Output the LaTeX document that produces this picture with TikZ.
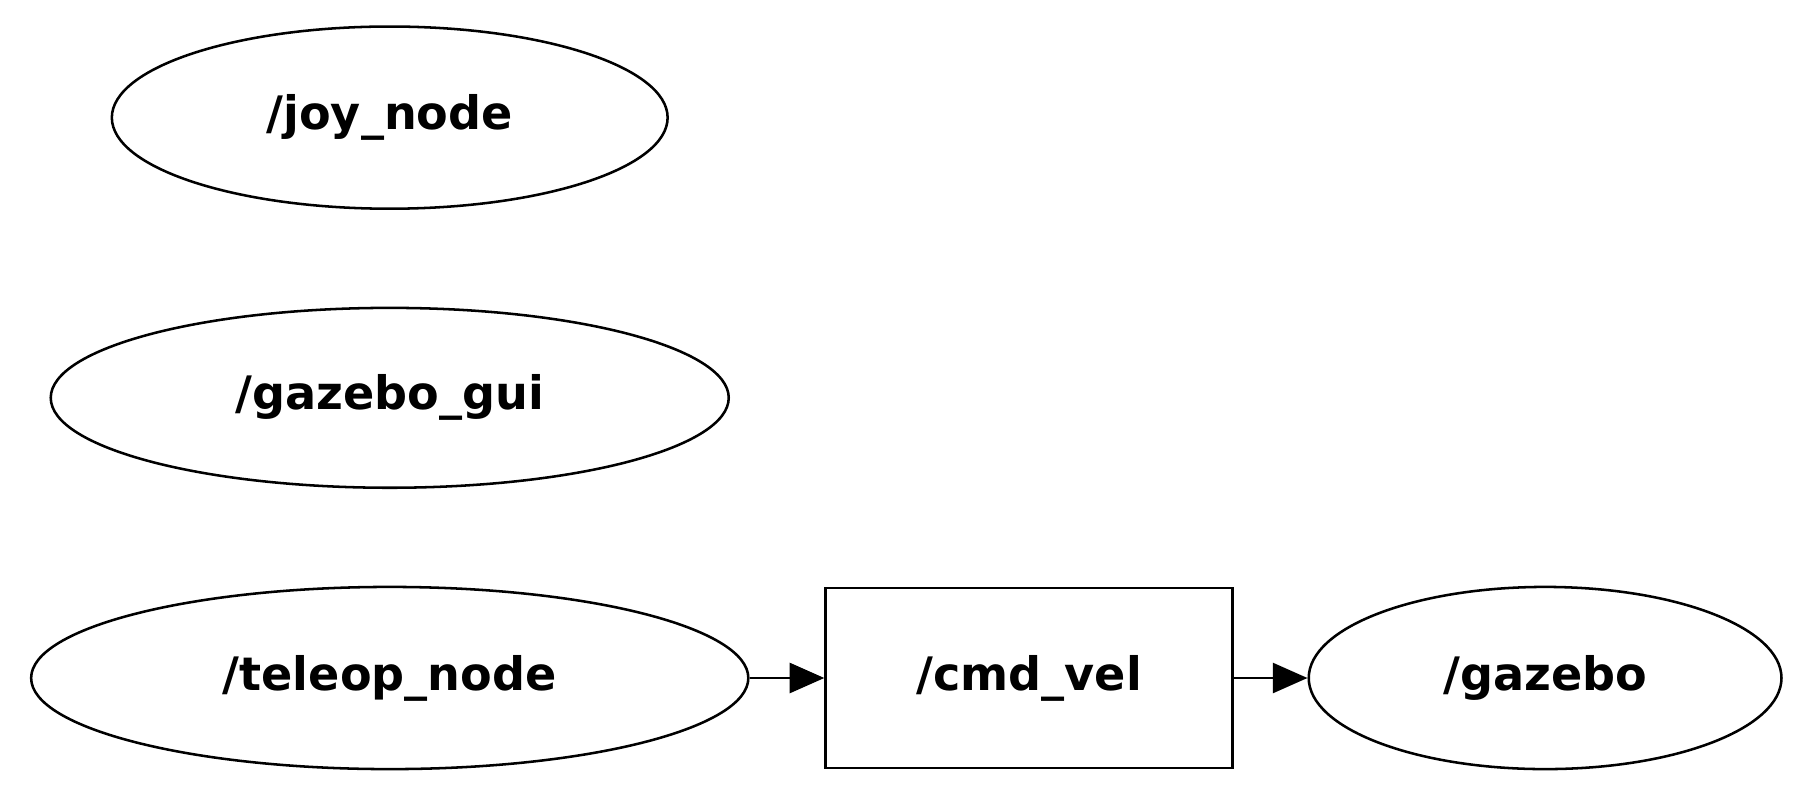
\documentclass[tikz,border=0pt]{standalone}
\usepackage{fontspec}
\setmainfont{DejaVu Sans}
\usetikzlibrary{shapes.geometric,arrows.meta}
\begin{document}
\begin{tikzpicture}[x=1pt,y=-1pt,
  el/.style={draw,line width=2.2pt,ellipse,inner sep=0pt},
  lbl/.style={font=\fontsize{40}{44}\selectfont\bfseries},
  arr/.style={line width=2.2pt,-{Triangle[length=30pt,width=26pt]}}]
\useasboundingbox (0,0) rectangle (1568,694);
\node[el,minimum width=482pt,minimum height=158pt,lbl] (joy) at (338,102) {/joy\_node};
\node[el,minimum width=588pt,minimum height=156pt,lbl] (gui) at (338,345) {/gazebo\_gui};
\node[el,minimum width=622pt,minimum height=158pt,lbl] (tel) at (338,588) {/teleop\_node};
\node[draw,line width=2.2pt,minimum width=353pt,minimum height=156pt,lbl] (cmd) at (892.5,588) {/cmd\_vel};
\node[el,minimum width=410pt,minimum height=158pt,lbl] (gz) at (1340,588) {/gazebo};
\draw[arr] (tel) -- (cmd);
\draw[arr] (cmd) -- (gz);
\end{tikzpicture}
\end{document}
